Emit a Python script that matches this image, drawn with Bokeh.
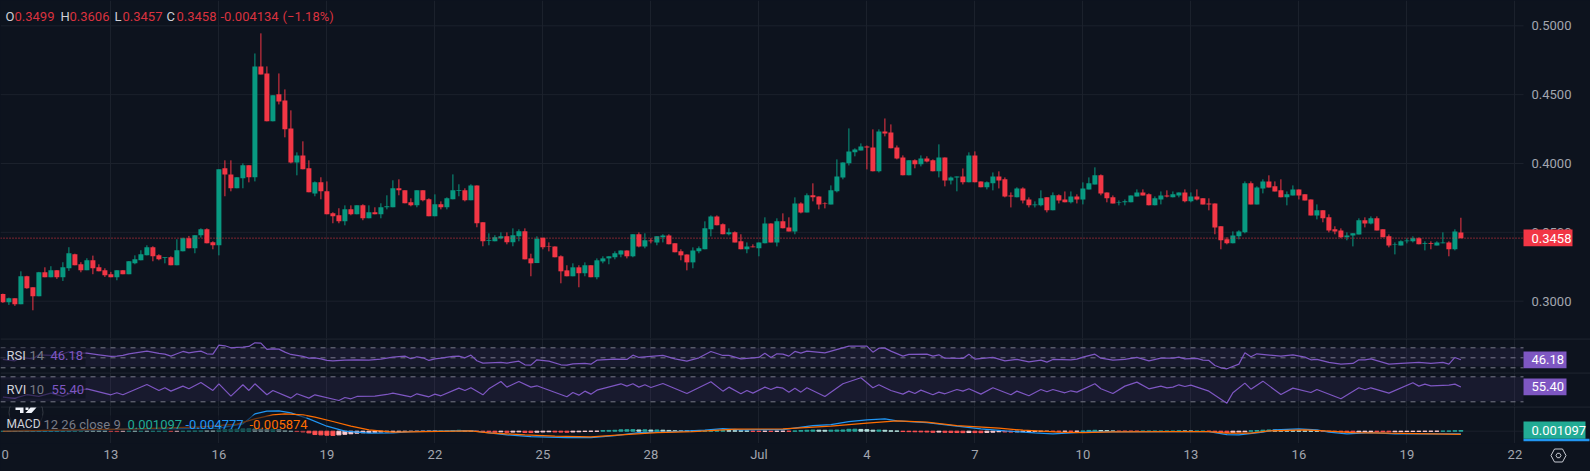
import math
from bokeh.plotting import figure
from bokeh.layouts import column
from bokeh.models import (Range1d, Span, Label, BoxAnnotation, PolyAnnotation, FixedTicker, ColumnDataSource)
from bokeh.core.properties import value
from bokeh.embed import file_html
from bokeh.resources import INLINE

opens = [.3053,.2992,.3021,.2978,.3181,.3101,.3036,.3210,.3174,.3225,
.3174,.3239,.3341,.3268,.3225,.3297,.3246,.3225,.3196,.3174,
.3225,.3196,.3275,.3297,.3333,.3392,.3333,.3314,.3319,.3261,
.3362,.3457,.3384,.3479,.3522,.3428,.3406,.3965,.3921,.3820,
.3892,.3987,.3900,.4705,.4654,.4306,.4502,.4458,.4255,.4008,
.4059,.3965,.3783,.3863,.3798,.3638,.3624,.3580,.3667,.3631,
.3696,.3602,.3646,.3631,.3682,.3682,.3820,.3805,.3718,.3696,
.3805,.3740,.3617,.3704,.3682,.3740,.3800,.3805,.3733,.3841,
.3573,.3438,.3435,.3457,.3471,.3428,.3471,.3508,.3311,.3277,
.3461,.3398,.3398,.3326,.3224,.3181,.3246,.3203,.3261,.3174,
.3289,.3311,.3319,.3340,.3369,.3326,.3486,.3398,.3440,.3427,
.3464,.3478,.3420,.3362,.3340,.3282,.3362,.3377,.3522,.3616,
.3558,.3486,.3500,.3435,.3377,.3398,.3384,.3420,.3565,.3427,
.3580,.3536,.3507,.3710,.3645,.3769,.3761,.3710,.3703,.3798,
.3899,.4001,.4081,.4095,.4124,.4117,.3943,.4233,.4226,.4117,
.4044,.3914,.4023,.3994,.4037,.4023,.3943,.4044,.3877,.3899,
.3906,.3863,.4059,.3870,.3827,.3856,.3906,.3885,.3768,.3754,
.3819,.3739,.3696,.3696,.3754,.3660,.3769,.3739,.3718,.3761,
.3739,.3812,.3848,.3914,.3790,.3754,.3716,.3718,.3718,.3761,
.3790,.3776,.3696,.3739,.3768,.3754,.3768,.3790,.3725,.3761,
.3747,.3710,.3710,.3544,.3449,.3420,.3471,.3500,.3856,.3703,
.3819,.3870,.3834,.3805,.3754,.3768,.3812,.3776,.3739,.3623,
.3660,.3609,.3522,.3514,.3464,.3478,.3485,.3587,.3565,.3602,
.3522,.3471,.3411,.3405,.3435,.3435,.3457,.3415,.3420,.3405,
.3420,.3427,.3377,.3499]

highs = [.3055,.3026,.3021,.3217,.3185,.3101,.3213,.3246,.3254,.3225,
.3283,.3392,.3345,.3283,.3312,.3331,.3268,.3239,.3213,.3225,
.3225,.3292,.3333,.3370,.3406,.3399,.3341,.3319,.3326,.3450,
.3462,.3474,.3479,.3529,.3529,.3435,.3958,.4023,.4023,.3900,
.4001,.3987,.4799,.4945,.4705,.4495,.4654,.4538,.4386,.4081,
.4161,.4023,.3870,.3900,.3870,.3646,.3675,.3696,.3696,.3696,
.3704,.3696,.3682,.3711,.3769,.3878,.3885,.3805,.3747,.3805,
.3805,.3747,.3776,.3725,.3754,.3921,.3849,.3820,.3849,.3841,
.3573,.3493,.3479,.3500,.3500,.3529,.3522,.3529,.3345,.3471,
.3461,.3427,.3398,.3333,.3261,.3275,.3261,.3282,.3261,.3311,
.3326,.3326,.3362,.3369,.3369,.3486,.3500,.3493,.3457,.3471,
.3486,.3486,.3420,.3377,.3340,.3391,.3398,.3580,.3623,.3623,
.3565,.3529,.3507,.3486,.3427,.3413,.3427,.3609,.3565,.3602,
.3638,.3609,.3754,.3718,.3783,.3856,.3761,.3718,.3841,.4030,
.4008,.4255,.4110,.4146,.4131,.4248,.4248,.4327,.4284,.4131,
.4059,.4023,.4030,.4059,.4052,.4030,.4139,.4044,.3906,.3906,
.3964,.4081,.4088,.3870,.3870,.3935,.3943,.3899,.3790,.3827,
.3827,.3754,.3725,.3805,.3754,.3790,.3776,.3797,.3797,.3776,
.3863,.3899,.3972,.3921,.3790,.3768,.3732,.3739,.3768,.3812,
.3812,.3783,.3761,.3797,.3805,.3797,.3790,.3812,.3790,.3812,
.3747,.3747,.3710,.3544,.3464,.3507,.3515,.3870,.3870,.3834,
.3885,.3914,.3870,.3885,.3797,.3841,.3812,.3776,.3739,.3703,
.3660,.3631,.3544,.3529,.3500,.3493,.3602,.3609,.3616,.3616,
.3522,.3485,.3427,.3442,.3457,.3471,.3464,.3435,.3435,.3435,
.3500,.3435,.3522,.3606]

lows = [.2988,.2973,.2966,.2978,.3090,.2934,.3036,.3174,.3174,.3162,
.3147,.3220,.3261,.3210,.3225,.3196,.3217,.3176,.3174,.3152,
.3196,.3196,.3268,.3297,.3333,.3290,.3297,.3275,.3261,.3261,
.3362,.3384,.3348,.3462,.3420,.3377,.3333,.3762,.3798,.3820,
.3820,.3863,.3870,.4647,.4306,.4306,.4429,.4190,.4001,.3914,
.3958,.3791,.3762,.3740,.3631,.3566,.3566,.3551,.3624,.3631,
.3588,.3602,.3631,.3602,.3667,.3682,.3769,.3711,.3689,.3682,
.3725,.3617,.3617,.3667,.3667,.3740,.3762,.3725,.3733,.3537,
.3399,.3406,.3435,.3450,.3413,.3399,.3435,.3304,.3181,.3277,
.3377,.3362,.3319,.3130,.3181,.3181,.3101,.3181,.3174,.3159,
.3275,.3268,.3304,.3319,.3311,.3319,.3391,.3384,.3420,.3406,
.3427,.3413,.3355,.3297,.3224,.3239,.3348,.3377,.3471,.3551,
.3486,.3478,.3427,.3377,.3348,.3391,.3326,.3420,.3427,.3398,
.3529,.3507,.3486,.3638,.3645,.3725,.3667,.3674,.3703,.3790,
.3885,.3986,.4052,.4095,.3957,.3943,.3935,.4197,.4110,.4030,
.3914,.3914,.3965,.3979,.4008,.3943,.3899,.3834,.3848,.3798,
.3848,.3863,.3863,.3827,.3812,.3805,.3819,.3754,.3681,.3754,
.3710,.3681,.3681,.3689,.3645,.3660,.3710,.3718,.3710,.3710,
.3703,.3812,.3848,.3769,.3718,.3710,.3696,.3696,.3718,.3761,
.3768,.3696,.3696,.3703,.3754,.3754,.3754,.3718,.3718,.3732,
.3703,.3660,.3486,.3377,.3413,.3420,.3449,.3493,.3703,.3703,
.3783,.3826,.3797,.3754,.3696,.3768,.3739,.3732,.3623,.3594,
.3573,.3500,.3486,.3457,.3442,.3398,.3485,.3536,.3558,.3514,
.3464,.3391,.3340,.3405,.3420,.3427,.3413,.3369,.3377,.3405,
.3420,.3326,.3369,.3457]

closes = [.2992,.3021,.2978,.3181,.3094,.3036,.3210,.3174,.3225,.3174,
.3246,.3348,.3261,.3225,.3297,.3239,.3217,.3188,.3174,.3225,
.3196,.3290,.3304,.3341,.3392,.3326,.3304,.3319,.3261,.3370,
.3457,.3384,.3479,.3522,.3420,.3406,.3958,.3921,.3820,.3900,
.3987,.3900,.4705,.4647,.4306,.4495,.4451,.4248,.4008,.4059,
.3958,.3791,.3863,.3798,.3631,.3617,.3580,.3667,.3631,.3696,
.3602,.3646,.3631,.3682,.3689,.3820,.3805,.3711,.3696,.3805,
.3733,.3617,.3704,.3682,.3747,.3805,.3805,.3733,.3841,.3566,
.3435,.3442,.3464,.3471,.3428,.3479,.3508,.3304,.3275,.3454,
.3391,.3394,.3319,.3217,.3181,.3246,.3203,.3261,.3174,.3297,
.3311,.3326,.3348,.3369,.3326,.3486,.3398,.3442,.3435,.3471,
.3478,.3413,.3355,.3333,.3282,.3369,.3384,.3529,.3616,.3551,
.3486,.3500,.3427,.3377,.3398,.3391,.3427,.3565,.3427,.3580,
.3529,.3507,.3710,.3645,.3769,.3754,.3703,.3706,.3805,.3906,
.4008,.4088,.4102,.4124,.4117,.3943,.4233,.4218,.4110,.4037,
.3914,.4023,.3994,.4037,.4015,.3943,.4044,.3877,.3899,.3906,
.3863,.4059,.3863,.3827,.3863,.3906,.3877,.3761,.3761,.3819,
.3732,.3696,.3703,.3747,.3660,.3769,.3732,.3718,.3761,.3739,
.3819,.3856,.3914,.3783,.3747,.3710,.3720,.3725,.3768,.3790,
.3768,.3696,.3747,.3768,.3761,.3776,.3790,.3725,.3761,.3739,
.3703,.3703,.3536,.3442,.3420,.3478,.3507,.3856,.3703,.3826,
.3870,.3826,.3797,.3754,.3776,.3812,.3768,.3732,.3623,.3660,
.3602,.3514,.3507,.3464,.3478,.3493,.3587,.3565,.3602,.3514,
.3464,.3405,.3415,.3435,.3440,.3457,.3413,.3420,.3415,.3427,
.3427,.3377,.3507,.3458]

macd_hist = [.0002,.0002,.0002,.0002,.0002,.0002,.0002,.0002,.0002,.0002,
.0003,.0006,.0009,.0012,.0010,.0008,.0006,.0003,-.0003,-.0006,
-.0003,.0003,.0002,.0002,.0001,.0001,.0001,.0001,-.0003,-.0002,
.0002,.0006,.0010,.0014,.0012,.0010,.0024,.0030,.0034,.0038,
.0042,.0046,.0040,.0036,.0032,.0034,.0030,.0012,.0002,-.0006,
-.0012,-.0030,-.0060,-.0066,-.0072,-.0076,-.0066,-.0056,-.0046,-.0036,
-.0028,-.0022,-.0018,-.0014,-.0012,-.0010,-.0008,-.0006,-.0005,-.0004,
-.0003,-.0002,-.0001,.0001,.0001,.0012,.0016,.0012,.0004,-.0002,
-.0006,-.0012,-.0018,-.0012,-.0020,-.0016,-.0012,-.0022,-.0024,-.0018,
-.0014,-.0010,-.0014,-.0016,-.0018,-.0014,-.0010,-.0004,-.0002,-.0001,
.0012,.0014,.0016,.0024,.0026,.0028,.0022,.0024,.0020,.0022,
.0018,.0014,.0006,.0003,.0002,.0001,.0001,.0001,.0006,.0010,
.0012,.0010,.0008,.0006,.0004,-.0002,-.0004,-.0002,-.0004,-.0002,
-.0001,-.0002,.0004,.0012,.0016,.0020,.0018,.0016,.0018,.0020,
.0022,.0034,.0036,.0032,.0028,.0018,.0020,.0016,.0006,.0003,
-.0006,-.0008,-.0010,-.0012,-.0014,-.0020,-.0016,-.0020,-.0022,-.0024,
-.0026,-.0024,-.0025,-.0026,-.0022,-.0018,-.0010,-.0014,-.0016,-.0012,
-.0008,-.0006,-.0005,-.0004,-.0003,-.0003,-.0003,-.0002,-.0002,-.0001,
.0002,.0014,.0016,.0012,.0010,.0003,-.0001,-.0001,-.0001,-.0001,
.0001,.0001,.0001,.0001,.0001,.0001,.0006,.0002,.0001,.0001,
.0001,-.0001,-.0010,-.0020,-.0024,-.0020,-.0014,-.0010,.0006,.0012,
.0018,.0022,.0020,.0016,.0012,.0008,.0006,.0004,.0002,.0001,
-.0002,-.0006,-.0010,-.0014,-.0016,-.0018,-.0014,-.0010,-.0006,-.0008,
-.0010,-.0012,-.0010,-.0008,-.0006,-.0005,-.0004,-.0003,-.0002,-.0001,
.0001,.0003,.0008,.0011]

rsi_bars = [1,3,4,6,7,9,11,12,13,15,17,19,20,21,22,25,27,28,29,30,31,32,33,34,35,36,37,38,39,40,41,42,43,44,45,46,47,48,49,50,51,52,53,54,55,56,58,60,62,64,
66,68,69,70,71,72,73,74,76,77,78,79,80,81,84,85,87,88,89,90,92,94,95,96,98,99,100,103,105,106,107,111,113,115,117,119,121,122,124,127,128,129,130,131,
132,133,134,135,138,142,145,146,147,148,149,151,152,155,156,157,158,161,162,163,166,168,170,172,174,175,176,179,180,181,183,184,186,188,190,192,194,196,
197,198,200,201,202,203,204,205,207,208,209,210,214,216,218,219,220,222,224,226,227,228,229,232,234,237,239,241,242,243,244]
rsi_vals = [46.7,44,50.7,48,56,54.7,58,62,60,59.3,56,52.7,53.3,54.7,58,63.3,58.7,57.3,53.3,58,62.7,60,62,63.3,58,57.3,75.3,74,70,70.7,71.3,72.7,80,79.3,66.7,68,67.3,61.3,56.7,54.7,52.7,49.3,50,48,44.7,44,45.3,46,45.3,47.3,
51.3,53.3,48,52,50,44.7,48,49.3,52.7,53.3,50,55.3,44,39.3,40.7,39.3,43.3,36,35.3,46,43.3,36,35.3,38,38.7,37.3,45.3,47.3,46.7,55.3,50.7,54.7,48,43.3,50,62.7,54.7,54.7,48,50.7,59.3,50.7,58,57.3,
53.3,62.7,59.3,63.3,60,73.3,73.3,61.3,69.3,69.3,63.3,53.3,56.7,57.3,53.3,56,49.3,48.7,57.3,47.3,50.7,44,46.7,42,45.3,41.3,46.7,46,47.3,51.3,57.3,49.3,45.3,46.7,50.7,44,49.3,49.3,
51.3,48,48.7,45.3,44.7,34.7,30,28,37.3,60,52,58,53.3,56,51.3,46,46.7,40.7,37.3,38.7,46,46,48,37.3,38.7,40.7,38.7,40.7,37.3,50.7,46.18]

rvi_bars = [1,3,5,7,9,11,13,15,19,20,21,25,27,28,29,31,32,34,36,37,39,41,42,43,45,46,49,50,52,53,57,58,59,60,63,65,
66,69,70,72,73,74,77,78,79,81,82,84,85,87,89,90,95,96,97,98,99,100,104,105,106,107,108,109,111,115,119,121,122,124,125,126,128,129,130,131,
132,133,134,135,138,141,144,146,147,149,151,152,153,154,156,157,158,160,161,162,164,166,169,170,172,174,175,176,178,179,180,183,184,186,188,190,192,194,195,196,
197,198,199,202,205,206,208,209,211,214,216,219,220,224,227,228,229,232,236,237,238,239,242,243,244]
rvi_vals = [31,29,37,33,41,33,45,51.2,36.8,41.6,36.8,61.6,47.2,53.6,45.6,57.6,51.2,66.4,47.2,63.2,33.6,60.8,47.2,63.2,36.8,47.2,28.8,39.2,28.8,36.8,23.2,30.4,27.2,32.8,33.6,37.6,
40.8,32,39.2,32,38.4,34.4,52.8,47.2,53.6,36.8,51.2,68.8,55.2,68.8,55.2,58.4,32,42.4,36,45.6,38.4,48,63.2,57.6,63.2,55.2,60.8,54.4,64,40,68,45.6,55.2,39.2,47.2,40.8,55.2,49.6,55.2,52.8,
43.2,52.8,43.2,53.6,32.8,63.2,77.6,53.6,60.8,47.2,38.4,45.6,40,48,36.8,43.2,39.2,49.6,45.6,51.2,38.4,53.6,36.8,45.6,34.4,49.6,44,49.6,41.6,46.4,43.2,63.2,51.2,40,57.6,67.2,51.2,57.6,53.6,55.2,
60.8,56.8,60,45.6,16.8,41.6,64.8,50.4,69.6,37.6,52.8,42.4,49.6,27.2,53.6,48.8,53.6,40.8,65.6,57.6,62.4,58.4,60,62.4,55.4]

macd_bars = [1,12,23,28,37,41,43,45,47,49,52,55,58,62,66,69,79,81,85,89,95,99,103,107,112,118,121,124,131,136,139,142,145,148,150,155,160,164,168,173,176,179,182,196,202,205,207,211,213,217,220,222,225,229,233,244]
macd_vals = [0,.0012,.0042,.0042,.0054,.0132,.0312,.0360,.0366,.0330,.0222,.0090,0,-.0036,-.0030,-.0006,.0012,-.0018,-.0066,-.0096,-.0114,-.0114,-.0078,-.0024,-.0012,.0018,.0048,.0024,.0030,.0102,.0120,.0174,.0204,.0222,.0186,.0156,.0090,.0042,.0006,-.0030,-.0048,-.0030,-.0012,-.0006,-.0006,-.0060,-.0066,-.0018,.0024,.0042,.0024,-.0018,-.0048,-.0024,-.0048,-.004777]
signal_bars = [1,23,34,40,43,46,48,51,53,56,59,62,66,79,82,88,93,99,104,110,116,119,123,131,139,145,150,155,160,167,171,177,181,186,196,202,205,209,212,218,222,226,232,239,244]
signal_vals = [0,.0042,.0078,.0126,.0222,.0294,.0312,.0294,.0252,.0174,.0090,.0024,-.0018,.0006,-.0030,-.0066,-.0090,-.0102,-.0066,-.0024,-.0006,.0012,.0036,.0042,.0090,.0144,.0186,.0162,.0102,.0054,.0018,-.0018,-.0024,-.0012,-.0006,-.0006,-.0036,-.0036,.0006,.0024,0,-.0024,-.0036,-.0048,-.005874]

date_ticks = [19,37,55,73,91,109,127,145,163,181,199,217,235,253]
date_labels = ["13","16","19","22","25","28","Jul","4","7","10","13","16","19","22"]
price_ticks = [0.30,0.35,0.40,0.45,0.50]
price_labels = ["0.3000","0.3500","0.4000","0.4500","0.5000"]
last_price = 0.3458

BG = "#0d131e"
GRID = "#1b212c"
SEP = "#2a2e39"
UP = "#089981"
DOWN = "#f23645"
PURPLE = "#7e57c2"
DASH = "#787b86"
AXIS_TEXT = "#a3a6af"
FONT = "Roboto"
W = 1590

def xa(px):
    return 1 + (px - 2.4) / 6

x_rng = Range1d(xa(0), xa(W))
bars = list(range(1, len(closes) + 1))

def pane(h, y0, y1):
    p = figure(frame_width=W, frame_height=h, x_range=x_rng, y_range=Range1d(y0, y1),
               output_backend="svg", toolbar_location=None, background_fill_color=BG,
               border_fill_color=BG, min_border=0, outline_line_color=None,
               styles={"background-color": BG})
    p.xaxis.visible = False
    p.yaxis.visible = False
    p.xgrid.ticker = FixedTicker(ticks=date_ticks)
    p.ygrid.visible = False
    p.grid.grid_line_color = GRID
    p.grid.grid_line_width = 1
    return p

def txt(p, px, y, s, color, size="13px", weight="normal"):
    p.add_layout(Label(x=xa(px), y=y, text=s, text_color=color, text_font=FONT, text_font_size=size,
                       text_font_style=weight, text_baseline="middle", text_align="left"))

def box(p, x0, x1, y0, y1, color, alpha=1.0):
    p.add_layout(BoxAnnotation(left=xa(x0), right=xa(x1), bottom=y0, top=y1, fill_color=color,
                               fill_alpha=alpha, line_color=None))

def hrule(p, y, color, dash="solid", level="underlay"):
    p.segment([xa(0)], [y], [xa(1523)], [y], line_color=color, line_dash=dash, line_width=1, level=level)

def sep(p, y):
    p.add_layout(Span(location=y, dimension="width", line_color=SEP, line_width=1))

# price pane
pm = 0.05 / 68.85
def yp(py):
    return 0.5 - (py - 25.3) * pm
main = pane(338, yp(338), yp(0))
for t in price_ticks:
    hrule(main, t, GRID)

candle_colors = [UP if c >= o else DOWN for o, c in zip(opens, closes)]
src = ColumnDataSource(dict(x=bars, o=opens, h=highs, l=lows, c=closes, color=candle_colors))
main.segment("x", "h", "x", "l", source=src, color="color", line_width=1)
main.vbar("x", 5 / 6, "o", "c", source=src, fill_color="color", line_color=None)
hrule(main, last_price, DOWN, dash="1 2", level="glyph")
main.text([xa(1531)] * len(price_ticks), price_ticks, text=price_labels, text_color=AXIS_TEXT,
          text_font=value(FONT), text_font_size="13px", text_baseline="middle")

dim = "#cfd1d8"
val = "#d9323f"
hy = yp(16)
for px, s, c in [(5, "O", dim), (14, "0.3499", val), (60, "H", dim), (69, "0.3606", val),
                 (114, "L", dim), (122, "0.3457", val), (166, "C", dim), (176, "0.3458", val),
                 (220, "-0.004134", val), (282, "(−1.18%)", val)]:
    txt(main, px, hy, s, c)
box(main, 1523, 1572, yp(245.7), yp(229), DOWN)
txt(main, 1531, last_price, "0.3458", "#ffffff")

# RSI pane: 338..372 px
def yr(py):
    return 50 - (py - 357.3) * 2
rsi = pane(34, yr(372), yr(338))
box(rsi, 0, 1523, yr(366), yr(347.3), PURPLE, 0.1)
for v in (70, 50, 30):
    hrule(rsi, v, DASH, dash="5 5", level="glyph")
rsi.line(rsi_bars, rsi_vals, line_color=PURPLE, line_width=1.2)
sep(rsi, yr(338.4))
box(rsi, 0, 85, yr(365), yr(347), BG, 0.6)
txt(rsi, 6, yr(355), "RSI", dim)
txt(rsi, 29, yr(355), "14", DASH)
txt(rsi, 50, yr(355), "46.18", PURPLE)
box(rsi, 1523, 1566, yr(367.7), yr(351), PURPLE)
txt(rsi, 1531, yr(359.3), "46.18", "#ffffff")

# RVI pane: 372..406 px
def yv(py):
    return 80 - (py - 376.3) / (25 / 60)
rvi = pane(34, yv(406), yv(372))
box(rvi, 0, 1523, yv(400.7), yv(376.3), PURPLE, 0.1)
for v in (80, 20):
    hrule(rvi, v, DASH, dash="5 5", level="glyph")
rvi.line(rvi_bars, rvi_vals, line_color=PURPLE, line_width=1.2)
sep(rvi, yv(372.4))
box(rvi, 0, 85, yv(398), yv(379), BG, 0.6)
txt(rvi, 6, yv(389), "RVI", dim)
txt(rvi, 29, yv(389), "10", DASH)
txt(rvi, 51, yv(389), "55.40", PURPLE)
box(rvi, 1523, 1566, yv(394.7), yv(378), PURPLE)
txt(rvi, 1531, yv(386.3), "55.40", "#ffffff")

# MACD pane: 406..443 px
mp = 0.0018
def ym(py):
    return (430.7 - py) * mp
macd = pane(37, ym(443), ym(406))
hrule(macd, 0, GRID)
hist_colors = []
for k, v in enumerate(macd_hist):
    prev = macd_hist[k - 1] if k else 0
    if v >= 0:
        hist_colors.append("#26a69a" if v >= prev else "#b2dfdb")
    else:
        hist_colors.append("#ff5252" if v <= prev else "#ffcdd2")
macd.vbar(bars, 4 / 6, 0, macd_hist, fill_color=hist_colors, line_color=hist_colors, line_width=1)
macd.line(macd_bars, macd_vals, line_color="#2196f3", line_width=1.2)
macd.line(signal_bars, signal_vals, line_color="#ff6d00", line_width=1.2)
sep(macd, ym(406.4))

# attribution mark, partly under the legend
ring = [(25.5 + 17 * math.cos(a * math.pi / 12), 412 + 17 * math.sin(a * math.pi / 12)) for a in range(24)]
macd.add_layout(PolyAnnotation(xs=[xa(p[0]) for p in ring], ys=[ym(p[1]) for p in ring], fill_alpha=0,
                               line_color="#cfd1d8", line_alpha=0.2, line_width=1))
for xs, ys in [([15, 23, 23, 19.5, 19.5, 15], [407, 407, 412.5, 412.5, 409.5, 409.5]),
               ([25, 28, 28, 25], [407, 407, 409.5, 409.5]),
               ([30, 36, 31, 25], [407, 407, 412.5, 412.5])]:
    macd.add_layout(PolyAnnotation(xs=[xa(v) for v in xs], ys=[ym(v) for v in ys], fill_color="#f0f3fa",
                                   fill_alpha=1, line_color=None))
box(macd, 0, 306, ym(431), ym(415), BG, 0.6)

my = ym(423.5)
for px, s, c, sz in [(6, "MACD", dim, "12px"), (43, "12 26 close 9", DASH, "13px"), (127, "0.001097", "#22ab94", "13px"),
                     (185, "-0.004777", "#2196f3", "13px"), (249, "-0.005874", "#ff6d00", "13px")]:
    txt(macd, px, my, s, c, size=sz)
box(macd, 1523, 1589, ym(440.7), ym(438.3), "#2196f3")
box(macd, 1523, 1585, ym(438.3), ym(421), "#22ab94")
txt(macd, 1531, ym(429.6), "0.001097", "#ffffff")

# time scale strip: 443..471 px
def yb(py):
    return 471 - py
strip = pane(28, yb(471), yb(443))
strip.xgrid.visible = False
strip.text(date_ticks, [yb(454)] * len(date_ticks), text=date_labels, text_color=AXIS_TEXT,
           text_font=value(FONT), text_font_size="13px", text_align="center", text_baseline="middle")
txt(strip, 1, yb(454), "0", AXIS_TEXT)
gx, gy = 1558, 455
strip.add_layout(PolyAnnotation(xs=[xa(gx + v) for v in (-7.5, -4, 4, 7.5, 4, -4)],
                                ys=[yb(gy + v) for v in (0, -6.5, -6.5, 0, 6.5, 6.5)],
                                fill_alpha=0, line_color="#c9ccd4", line_alpha=1, line_width=1))
strip.add_layout(PolyAnnotation(xs=[xa(gx + v) for v in (-2.5, -1.2, 1.2, 2.5, 1.2, -1.2)],
                                ys=[yb(gy + v) for v in (0, -2.2, -2.2, 0, 2.2, 2.2)],
                                fill_alpha=0, line_color="#c9ccd4", line_alpha=1, line_width=1))

page = column(main, rsi, rvi, macd, strip, spacing=0, styles={"background-color": BG})
open("out.html", "w").write(file_html(page, INLINE))
